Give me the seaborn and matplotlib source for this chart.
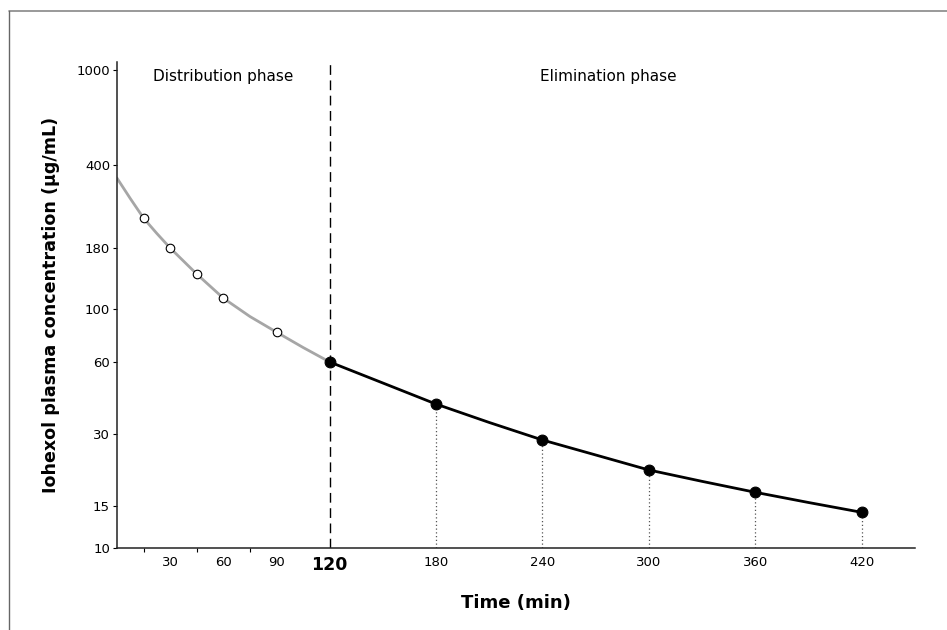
import matplotlib
matplotlib.use("Agg")
import matplotlib.pyplot as plt
from matplotlib.lines import Line2D
import seaborn as sns

dist_time = [15, 30, 45, 60, 90]
dist_conc = [240, 180, 140, 111, 80]
elim_time = [120, 180, 240, 300, 360, 420]
elim_conc = [60, 40, 28.3, 21.2, 17.1, 14.1]

# fitted curves
dist_curve_t = [0, 7.5, 15, 22.5, 30, 45, 60, 75, 90, 105, 120]
dist_curve_c = [353, 290, 240, 207, 180, 140, 111, 93, 80, 69, 60]
elim_curve_t = [120, 150, 180, 210, 240, 270, 300, 330, 360, 390, 420]
elim_curve_c = [60, 49, 40, 33.5, 28.3, 24.5, 21.2, 19, 17.1, 15.5, 14.1]

x_ticks = [30, 60, 90, 120, 180, 240, 300, 360, 420]
y_ticks = [10, 15, 30, 60, 100, 180, 400, 1000]

sns.set_style("ticks")
plt.rcParams["font.family"] = ["DejaVu Sans"]
plt.rcParams["text.color"] = "black"
plt.rcParams["axes.labelcolor"] = "black"
plt.rcParams["xtick.color"] = "black"
plt.rcParams["ytick.color"] = "black"

fig = plt.figure(figsize=(9.47, 6.30), dpi=100)
ax = fig.add_axes([0.1235, 0.1302, 0.8425, 0.7714])

sns.lineplot(x=dist_curve_t, y=dist_curve_c, color="#a6a6a6", linewidth=2, ax=ax, zorder=2)
sns.lineplot(x=elim_curve_t, y=elim_curve_c, color="black", linewidth=2, ax=ax, zorder=3)

# dotted drop lines for the elimination samples
for t, c in zip(elim_time[1:], elim_conc[1:]):
    ax.plot([t, t], [10, c], linestyle=(0, (1, 2)), color="#555555", linewidth=0.9, zorder=1)

ax.axvline(120, color="black", linestyle=(0, (7, 4)), linewidth=1, zorder=1)

sns.scatterplot(x=dist_time, y=dist_conc, color="white", edgecolor="black",
                s=38, linewidth=0.8, ax=ax, zorder=4)
sns.scatterplot(x=elim_time, y=elim_conc, color="black", edgecolor="black",
                s=60, linewidth=0.8, ax=ax, zorder=5)

ax.set_yscale("log")
ax.set_xlim(0, 450)
ax.set_ylim(10, 1080)
ax.set_yticks(y_ticks)
ax.set_yticklabels([str(v) for v in y_ticks], fontsize=9.5)
ax.minorticks_off()
ax.set_xticks(x_ticks)
ax.set_xticklabels([str(v) for v in x_ticks], fontsize=9.5)
for lab in ax.get_xticklabels():
    if lab.get_text() == "120":
        lab.set_fontsize(12.5)
        lab.set_fontweight("bold")
ax.tick_params(axis="x", length=0, pad=6)
ax.tick_params(axis="y", length=3, width=0.8, pad=2)
ax.set_xticks([15, 45, 75], minor=True)
ax.tick_params(axis="x", which="minor", length=3, direction="out", width=0.8)

for side in ["top", "right"]:
    ax.spines[side].set_visible(False)
for side in ["left", "bottom"]:
    ax.spines[side].set_linewidth(1.1)
    ax.spines[side].set_color("#222222")

ax.text(60, 940, "Distribution phase", ha="center", va="center", fontsize=11)
ax.text(277, 940, "Elimination phase", ha="center", va="center", fontsize=11)

ax.set_xlabel("Time (min)", fontsize=13, fontweight="bold", labelpad=14)
ax.set_ylabel("Iohexol plasma concentration (µg/mL)", fontsize=12.6, fontweight="bold", labelpad=12)

# thin frame around the figure (top and left edges)
fig.add_artist(Line2D([0.009, 1.0], [0.983, 0.983], color="#888888", linewidth=1.2,
                      transform=fig.transFigure))
fig.add_artist(Line2D([0.0095, 0.0095], [0.0, 0.983], color="#666666", linewidth=1.0,
                      transform=fig.transFigure))

fig.savefig("out.png", dpi=100)
